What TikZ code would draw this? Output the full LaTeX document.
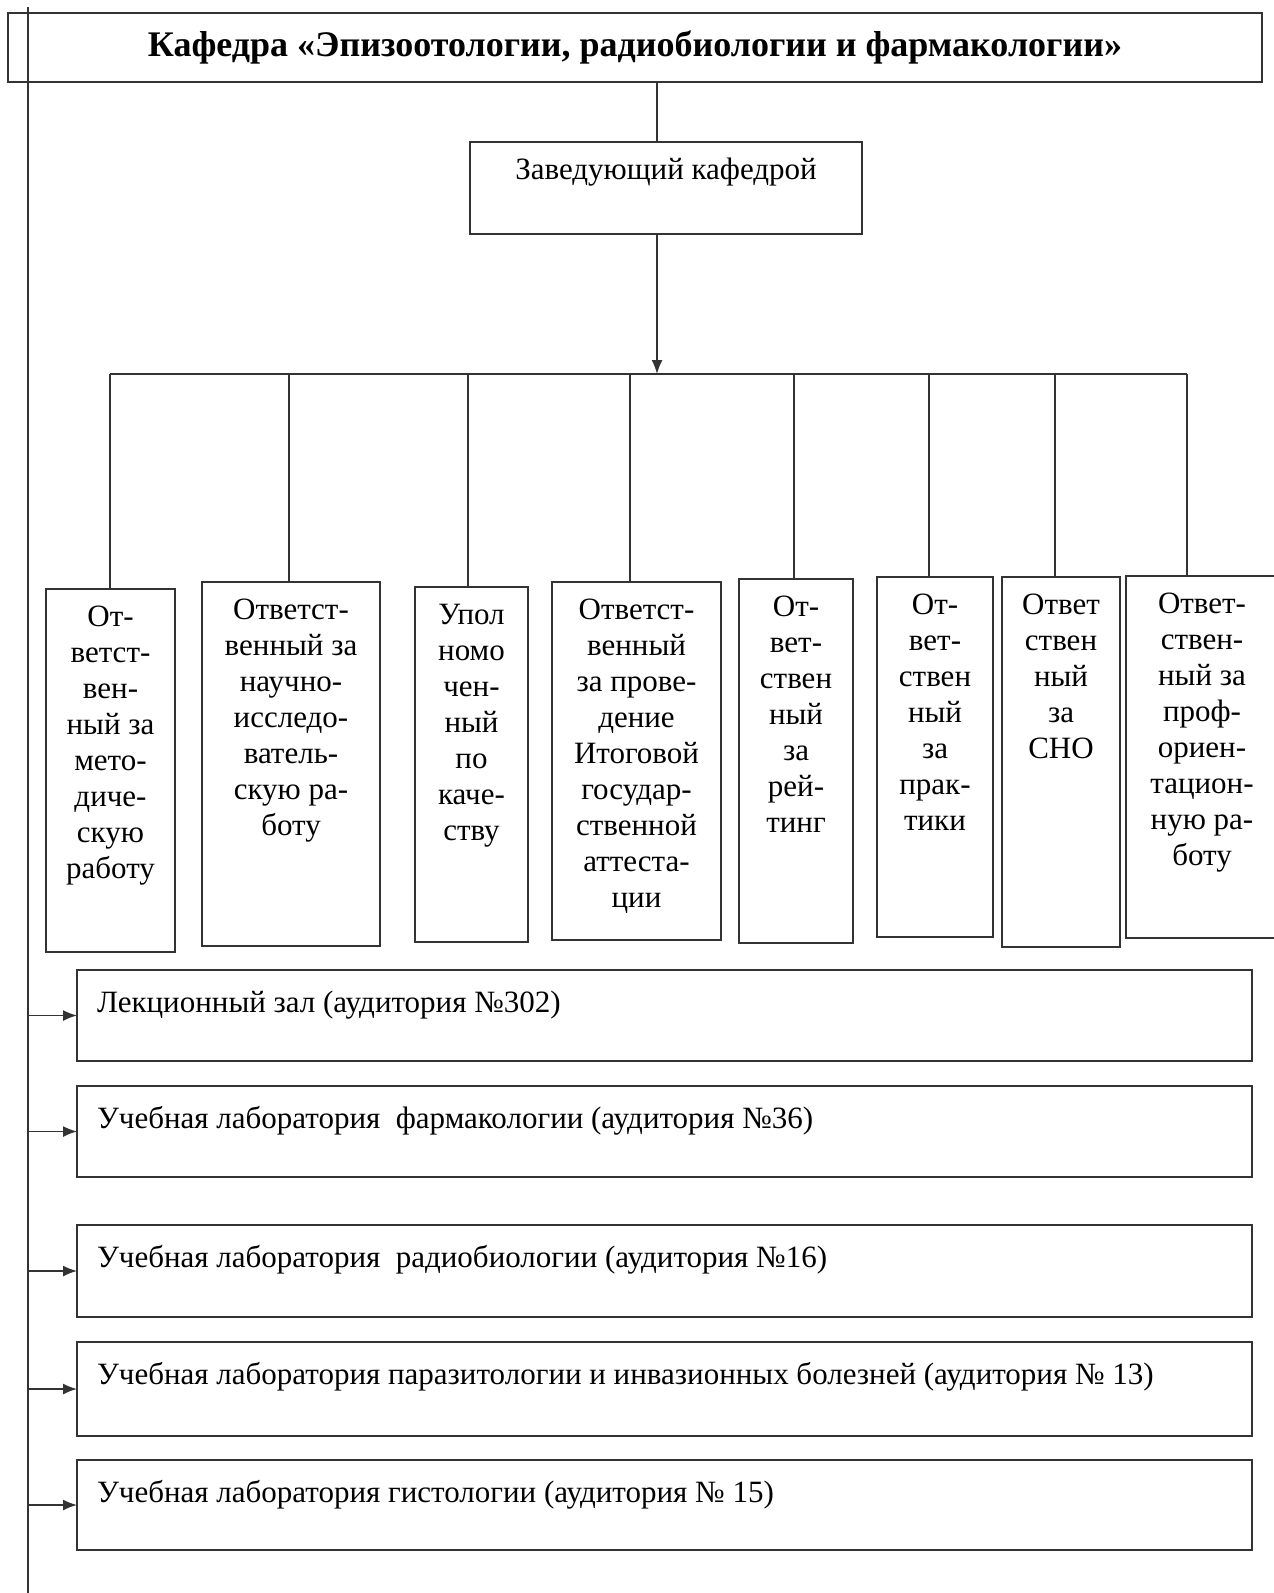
\documentclass[tikz,border=0pt]{standalone}
\usepackage{fontspec}
\setmainfont{Liberation Serif}
\usetikzlibrary{arrows.meta}

\begin{document}
\begin{tikzpicture}[x=1pt, y=-1pt,
    box/.style={draw=black!80, line width=1.5pt, inner sep=0pt, outer sep=0pt, font=\fontsize{31}{36}\selectfont},
    conn/.style={draw=black!80, line width=1.5pt},
    arr/.style={conn, -{Latex[length=14pt, width=11pt]}}]
    \useasboundingbox (0,0) rectangle (1274,1593);

    % Title
    \node[box, anchor=north west, minimum width=1254pt, minimum height=69pt, font=\fontsize{36}{40}\selectfont\bfseries] (title) at (8,13) {Кафедра «Эпизоотологии, радиобиологии и фармакологии»};

    % Head of department
    \node[box, anchor=north west] (zav) at (470,142) {\parbox[t][92pt][t]{392pt}{\centering\rule{0pt}{37pt}Заведующий кафедрой}};

    % Bus
    \coordinate (mid) at (657,374);
    \coordinate (busL) at (110,374);
    \coordinate (busR) at (1187,374);
    \draw[conn] (busL) -- (busR);
    \draw[conn] (title.south -| mid) -- (zav.north -| mid);
    \draw[arr] (zav.south -| mid) -- (mid);

    % Responsible persons
    \foreach \x/\y/\w/\h/\tap/\txt [count=\i] in {
        46/589/129/363/110/{От-\\ветст-\\вен-\\ный за\\мето-\\диче-\\скую\\работу},
        202/582/178/364/289/{Ответст-\\венный за\\научно-\\исследо-\\ватель-\\скую ра-\\боту},
        415/587/113/355/468/{Упол\\номо\\чен-\\ный\\по\\каче-\\ству},
        552/582/169/358/630/{Ответст-\\венный\\за прове-\\дение\\Итоговой\\государ-\\ственной\\аттеста-\\ции},
        739/579/114/364/794/{От-\\вет-\\ствен\\ный\\за\\рей-\\тинг},
        877/577/116/360/929/{От-\\вет-\\ствен\\ный\\за\\прак-\\тики},
        1002/577/118/370/1055/{Ответ\\ствен\\ный\\за\\СНО},
        1126/576/152/362/1187/{Ответ-\\ствен-\\ный за\\проф-\\ориен-\\тацион-\\ную ра-\\боту}} {
        \node[box, anchor=north west] (r\i) at (\x,\y) {\parbox[t][\h pt][t]{\w pt}{\centering\rule{0pt}{37pt}\txt}};
        \coordinate (t\i) at (\tap,374);
        \draw[conn] (t\i) -- (t\i |- r\i.north);
    }

    % Rooms
    \foreach \y/\h/\txt [count=\i] in {
        970/91/{Лекционный зал (аудитория №302)},
        1086/91/{Учебная лаборатория \ фармакологии (аудитория №36)},
        1225/92/{Учебная лаборатория \ радиобиологии (аудитория №16)},
        1342/94/{Учебная лаборатория паразитологии и инвазионных болезней (аудитория № 13)},
        1460/90/{Учебная лаборатория гистологии (аудитория № 15)}} {
        \node[box, anchor=north west] (l\i) at (77,\y) {\parbox[t][\h pt][t]{1175pt}{\rule{0pt}{42pt}\hspace*{20pt}\txt}};
    }

    % Trunk on the left
    \coordinate (trunktop) at (28,7);
    \coordinate (trunkbot) at (28,1593);
    \draw[conn] (trunktop) -- (trunkbot);
    \foreach \i in {1,...,5}
        \draw[arr] (l\i.west -| trunktop) -- (l\i.west);
\end{tikzpicture}
\end{document}
